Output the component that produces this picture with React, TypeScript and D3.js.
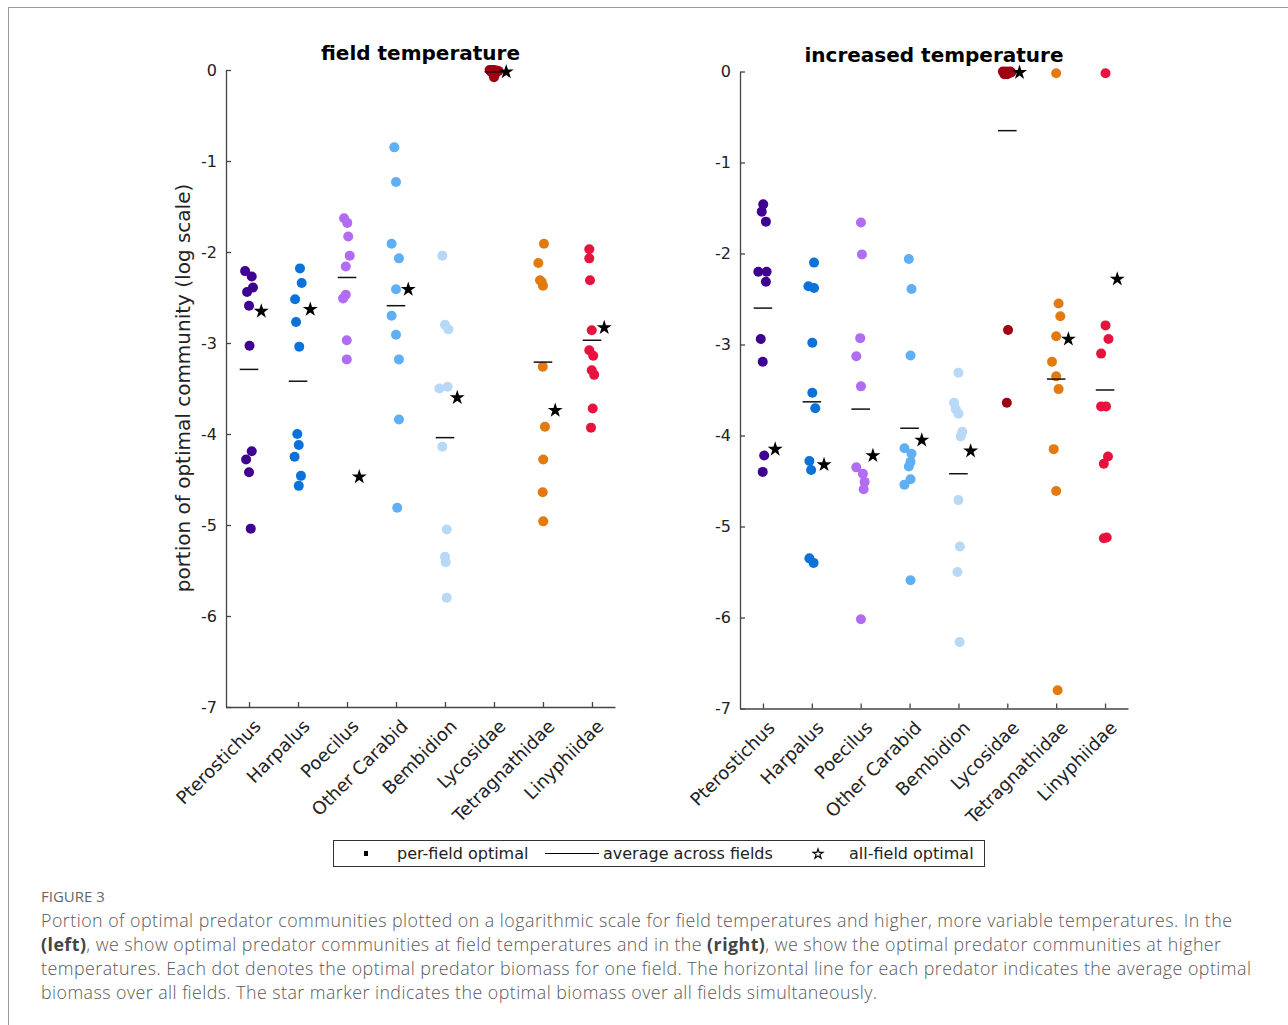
import { useEffect, useRef } from 'react';
import * as d3 from 'd3';

const categories = ['Pterostichus', 'Harpalus', 'Poecilus', 'Other Carabid', 'Bembidion', 'Lycosidae', 'Tetragnathidae', 'Linyphiidae'];
const colors = ['#3f0290', '#0a72d8', '#b06cf2', '#5eaff6', '#b7d8f6', '#9e0012', '#e27a10', '#e8123f'];
const yTicks = [0, -1, -2, -3, -4, -5, -6, -7];

// field temperature: log10 portion per field, with horizontal jitter (category units)
const fieldValues = [
	[-2.21, -2.27, -2.39, -2.44, -2.59, -3.03, -4.19, -4.28, -4.42, -5.04],
	[-2.18, -2.34, -2.52, -2.77, -3.04, -4.0, -4.12, -4.25, -4.46, -4.57],
	[-1.63, -1.68, -1.83, -2.04, -2.16, -2.47, -2.51, -2.97, -3.18],
	[-0.85, -1.23, -1.91, -2.07, -2.41, -2.7, -2.91, -3.18, -3.84, -4.81],
	[-2.04, -2.8, -2.85, -3.5, -3.48, -4.14, -5.05, -5.35, -5.41, -5.8],
	[0, 0, 0, -0.005, -0.01, -0.02, -0.02, -0.04, -0.05, -0.08],
	[-1.91, -2.12, -2.31, -2.33, -2.37, -3.26, -3.92, -4.28, -4.64, -4.96],
	[-1.97, -2.07, -2.31, -2.86, -3.08, -3.14, -3.3, -3.35, -3.72, -3.93],
];
const fieldJitter = [
	[-0.08, 0.055, 0.08, -0.04, 0, 0.01, 0.055, -0.06, 0, 0.035],
	[0.04, 0.075, -0.06, -0.04, 0.025, -0.015, 0.015, -0.07, 0.06, 0.015],
	[-0.06, 0.005, 0.025, 0.055, -0.025, -0.025, -0.08, -0.005, -0.005],
	[-0.035, 0, -0.09, 0.06, 0, -0.09, 0, 0.06, 0.06, 0.025],
	[-0.055, 0, 0.07, -0.115, 0.055, -0.055, 0.035, 0, 0.015, 0.035],
	[-0.09, -0.05, 0, 0.05, 0.09, -0.06, 0.04, -0.02, 0.02, 0],
	[0.02, -0.095, -0.06, -0.025, 0, -0.005, 0.04, 0.005, -0.005, 0.005],
	[-0.055, -0.055, -0.04, -0.005, -0.055, 0.025, -0.005, 0.045, 0.015, -0.02],
];
const fieldMeans = [-3.29, -3.42, -2.28, -2.59, -4.04, -0.02, -3.21, -2.97];
const fieldStars = [-2.64, -2.62, -4.46, -2.4, -3.59, -0.01, -3.73, -2.82];

// increased temperature
const warmValues = [
	[-1.46, -1.54, -1.65, -2.2, -2.2, -2.31, -2.94, -3.19, -4.22, -4.4],
	[-2.1, -2.36, -2.38, -2.98, -3.53, -3.7, -4.28, -4.38, -5.35, -5.4],
	[-1.66, -2.01, -2.93, -3.13, -3.46, -4.35, -4.42, -4.51, -4.59, -6.02],
	[-2.06, -2.39, -3.12, -4.14, -4.2, -4.29, -4.34, -4.48, -4.54, -5.59],
	[-3.31, -3.64, -3.71, -3.76, -3.96, -4.01, -4.71, -5.22, -5.5, -6.27],
	[0, -0.01, 0, -0.02, 0, -0.01, -0.03, -0.03, -2.84, -3.64],
	[-0.02, -2.55, -2.69, -2.91, -3.19, -3.35, -3.49, -4.15, -4.61, -6.8],
	[-0.02, -2.79, -2.94, -3.1, -3.68, -3.68, -4.23, -4.31, -5.13, -5.12],
];
const warmJitter = [
	[0.005, -0.025, 0.06, -0.095, 0.075, 0.06, -0.045, -0.005, 0.025, -0.005],
	[0.045, -0.07, 0.045, 0.01, 0.01, 0.07, -0.05, -0.015, -0.05, 0.035],
	[0.005, 0.025, -0.01, -0.09, 0.005, -0.09, 0.045, 0.08, 0.06, 0.005],
	[-0.015, 0.04, 0.02, -0.105, 0.04, 0.02, -0.015, 0.02, -0.105, 0.02],
	[0, -0.09, -0.055, 0, 0.08, 0.045, 0, 0.03, -0.02, 0.025],
	[-0.09, -0.05, -0.02, 0.02, 0.06, 0.08, -0.06, 0, 0.015, -0.01],
	[0, 0.05, 0.085, 0, -0.085, 0, 0.05, -0.05, 0, 0.03],
	[0.01, 0.01, 0.07, -0.08, -0.08, 0.02, 0.06, -0.025, -0.025, 0.035],
];
const warmMeans = [-2.6, -3.63, -3.71, -3.92, -4.42, -0.65, -3.38, -3.5];
const warmStars = [-4.14, -4.31, -4.21, -4.04, -4.16, 0, -2.93, -2.27];

const captionLines = [
	[{ t: 'Portion of optimal predator communities plotted on a logarithmic scale for field temperatures and higher, more variable temperatures. In the' }],
	[{ t: '(left)', b: true }, { t: ', we show optimal predator communities at field temperatures and in the ' }, { t: '(right)', b: true }, { t: ', we show the optimal predator communities at higher' }],
	[{ t: 'temperatures. Each dot denotes the optimal predator biomass for one field. The horizontal line for each predator indicates the average optimal' }],
	[{ t: 'biomass over all fields. The star marker indicates the optimal biomass over all fields simultaneously.' }],
];
const captionWidths = [1191, 1180, 1210, 836];

const FONT = 'DejaVu Sans, sans-serif';
const STAR_OFFSET = 0.25;

const App = () => {
	const svgRef = useRef<SVGSVGElement>(null);

	useEffect(() => {
		const svg = d3.select(svgRef.current);
		svg.selectAll('*').remove();

		svg.append('rect').attr('x', 8.5).attr('y', 7.5).attr('width', 1400).attr('height', 1100).attr('fill', 'none').attr('stroke', '#9a9a9a');

		const star = d3.symbol().type(d3.symbolStar).size(70);

		const drawPanel = (left: number, right: number, top: number, bottom: number, title: string, values: number[][], jitter: number[][], means: number[], stars: number[]) => {
			const x = d3.scaleLinear().domain([0.53, 8.47]).range([left, right]);
			const y = d3.scaleLinear().domain([-7, 0]).range([bottom, top]);
			const g = svg.append('g');

			const yAxis = g
				.append('g')
				.attr('transform', `translate(${left},0)`)
				.call(d3.axisLeft(y).tickValues(yTicks).tickSizeInner(-5).tickSizeOuter(0).tickPadding(9).tickFormat(d => String(d)));
			yAxis.attr('font-family', FONT).attr('font-size', 16);
			yAxis.selectAll('path, line').attr('stroke', '#444').attr('stroke-width', 1.3);
			yAxis.selectAll('text').attr('fill', '#222');

			const xAxis = g
				.append('g')
				.attr('transform', `translate(0,${bottom})`)
				.call(d3.axisBottom(x).tickValues(d3.range(1, 9)).tickSizeInner(-5).tickSizeOuter(0).tickFormat(d => categories[+d - 1]));
			xAxis.attr('font-family', FONT).attr('font-size', 18);
			xAxis.selectAll('path, line').attr('stroke', '#444').attr('stroke-width', 1.3);
			xAxis
				.selectAll('text')
				.attr('fill', '#222')
				.attr('y', 0)
				.attr('dy', '0.35em')
				.attr('text-anchor', 'end')
				.attr('transform', 'translate(8,16) rotate(-45)');

			g.append('text')
				.attr('x', (left + right) / 2)
				.attr('y', top - 10)
				.attr('text-anchor', 'middle')
				.attr('font-family', FONT)
				.attr('font-weight', 'bold')
				.attr('font-size', 20)
				.text(title);

			values.forEach((vals, i) => {
				g.append('g')
					.selectAll('circle')
					.data(vals)
					.join('circle')
					.attr('cx', (d, j) => x(i + 1 + jitter[i][j]))
					.attr('cy', d => y(d))
					.attr('r', 5)
					.attr('fill', colors[i]);
			});

			g.append('g')
				.selectAll('line')
				.data(means)
				.join('line')
				.attr('x1', (d, i) => x(i + 1 - 0.19))
				.attr('x2', (d, i) => x(i + 1 + 0.19))
				.attr('y1', d => y(d))
				.attr('y2', d => y(d))
				.attr('stroke', '#111')
				.attr('stroke-width', 1.5);

			g.append('g')
				.selectAll('path')
				.data(stars)
				.join('path')
				.attr('d', star)
				.attr('transform', (d, i) => `translate(${x(i + 1 + STAR_OFFSET)},${y(d) + 1})`)
				.attr('fill', '#000');
		};

		drawPanel(226, 615, 70, 707, 'field temperature', fieldValues, fieldJitter, fieldMeans, fieldStars);
		drawPanel(740, 1128, 71.5, 708.5, 'increased temperature', warmValues, warmJitter, warmMeans, warmStars);

		svg.append('text')
			.attr('transform', 'translate(190,388) rotate(-90)')
			.attr('text-anchor', 'middle')
			.attr('font-family', FONT)
			.attr('font-size', 20)
			.attr('fill', '#222')
			.text('portion of optimal community (log scale)');

		// legend
		const lg = svg.append('g').attr('font-family', FONT).attr('font-size', 16).attr('fill', '#222');
		lg.append('rect').attr('x', 333.5).attr('y', 840.5).attr('width', 651).attr('height', 26).attr('fill', '#fff').attr('stroke', '#333');
		lg.append('rect').attr('x', 364).attr('y', 851).attr('width', 4).attr('height', 5).attr('fill', '#000');
		lg.append('text').attr('x', 397).attr('y', 859).text('per-field optimal');
		lg.append('line').attr('x1', 545).attr('x2', 599).attr('y1', 853.5).attr('y2', 853.5).attr('stroke', '#000');
		lg.append('text').attr('x', 603).attr('y', 859).text('average across fields');
		lg.append('path')
			.attr('d', d3.symbol().type(d3.symbolStar).size(30)())
			.attr('transform', 'translate(818,854)')
			.attr('fill', '#fff')
			.attr('stroke', '#000')
			.attr('stroke-width', 1.2);
		lg.append('text').attr('x', 849).attr('y', 859).text('all-field optimal');

		// caption
		svg.append('text')
			.attr('x', 41)
			.attr('y', 902)
			.attr('font-family', 'Open Sans, sans-serif')
			.attr('font-size', 15)
			.attr('fill', '#666')
			.text('FIGURE 3');

		captionLines.forEach((line, i) => {
			const t = svg
				.append('text')
				.attr('x', 41)
				.attr('y', 927 + i * 24)
				.attr('font-family', 'Open Sans, sans-serif')
				.attr('font-size', 17.8)
				.attr('font-weight', 300)
				.attr('fill', '#595959')
				.attr('textLength', captionWidths[i])
				.attr('lengthAdjust', 'spacing');
			line.forEach(seg => {
				t.append('tspan')
					.attr('font-weight', seg.b ? 'bold' : 300)
					.attr('fill', seg.b ? '#444' : '#595959')
					.text(seg.t);
			});
		});
	}, []);

	return (
		<div style={{ position: 'absolute', left: 0, top: 0, background: '#fff' }}>
			<svg ref={svgRef} width={1288} height={1025} style={{ display: 'block' }}></svg>
		</div>
	);
};

export default App;
